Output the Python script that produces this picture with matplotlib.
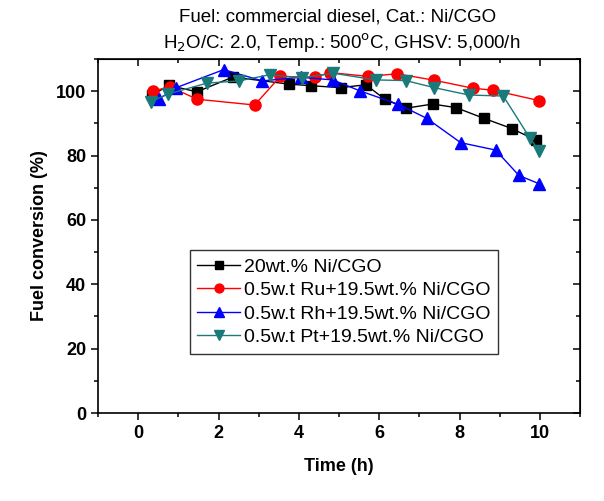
import matplotlib
matplotlib.use("Agg")
import matplotlib.pyplot as plt
from matplotlib.ticker import MultipleLocator

plt.rcParams['font.family'] = ['Liberation Sans', 'DejaVu Sans']

# Data
ni_x = [0.34, 0.77, 1.46, 2.36, 3.75, 4.30, 5.04, 5.67, 6.14, 6.66, 7.33, 7.91, 8.6, 9.3, 9.9]
ni_y = [98.8, 101.8, 99.8, 104.4, 102.2, 101.7, 101.1, 102.0, 97.5, 94.7, 96.0, 94.9, 91.6, 88.4, 84.8]

ru_x = [0.37, 0.8, 1.47, 2.9, 3.54, 4.40, 4.77, 5.72, 6.45, 7.37, 8.34, 8.84, 9.97]
ru_y = [100.1, 101.3, 97.5, 95.7, 104.6, 104.3, 105.8, 104.6, 105.4, 103.4, 100.9, 100.3, 97.1]

rh_x = [0.52, 0.95, 2.13, 3.09, 4.05, 4.85, 5.52, 6.46, 7.18, 8.03, 8.9, 9.48, 9.97]
rh_y = [97.6, 101.1, 106.7, 103.2, 104.3, 103.5, 100.1, 96.0, 91.6, 84.0, 81.7, 73.8, 71.3]

pt_x = [0.31, 0.74, 1.71, 2.51, 3.27, 4.09, 4.85, 5.91, 6.66, 7.37, 8.24, 9.09, 9.75, 9.98]
pt_y = [96.7, 99.1, 102.5, 103.2, 105.1, 104.1, 105.6, 103.5, 103.3, 101.1, 98.8, 98.5, 85.5, 81.5]

labels = ["20wt.% Ni/CGO",
          "0.5w.t Ru+19.5wt.% Ni/CGO",
          "0.5w.t Rh+19.5wt.% Ni/CGO",
          "0.5w.t Pt+19.5wt.% Ni/CGO"]

fig = plt.figure(figsize=(6.04, 5.01), dpi=100)
ax = fig.add_axes([98/604, 1 - 413/501, (580-98)/604, (413-59)/501])

ax.plot(ni_x, ni_y, color='black', marker='s', ms=7, lw=1, label=labels[0])
ax.plot(ru_x, ru_y, color='red', marker='o', ms=8, lw=1, label=labels[1])
ax.plot(rh_x, rh_y, color='blue', marker='^', ms=8.5, lw=1, label=labels[2])
ax.plot(pt_x, pt_y, color='#1a7a7a', marker='v', ms=8.5, lw=1, label=labels[3])

ax.set_xlim(-1, 11)
ax.set_ylim(0, 110)
ax.xaxis.set_major_locator(MultipleLocator(2))
ax.xaxis.set_minor_locator(MultipleLocator(1))
ax.yaxis.set_major_locator(MultipleLocator(20))
ax.yaxis.set_minor_locator(MultipleLocator(10))

for s in ax.spines.values():
    s.set_linewidth(1.2)

ax.tick_params(which='both', direction='out', top=False, right=False, width=1.1)
ax.tick_params(which='major', length=5, labelsize=13)
ax.tick_params(which='minor', length=3)
for lab in ax.get_xticklabels() + ax.get_yticklabels():
    lab.set_fontweight('bold')

# mirrored inward ticks on top and right
axt = ax.secondary_xaxis('top')
axt.xaxis.set_major_locator(MultipleLocator(2))
axt.xaxis.set_minor_locator(MultipleLocator(1))
axt.tick_params(which='both', direction='in', labeltop=False, width=1.1)
axt.tick_params(which='major', length=5)
axt.tick_params(which='minor', length=3)
axr = ax.secondary_yaxis('right')
axr.yaxis.set_major_locator(MultipleLocator(20))
axr.yaxis.set_minor_locator(MultipleLocator(10))
axr.tick_params(which='both', direction='in', labelright=False, width=1.1)
axr.tick_params(which='major', length=5)
axr.tick_params(which='minor', length=3)

ax.set_xlabel("Time (h)", fontsize=13, fontweight='bold', labelpad=12)
ax.set_ylabel("Fuel conversion (%)", fontsize=13, fontweight='bold', labelpad=6)

fig.text(0.5 + 36/604, 1 - 17/501, "Fuel: commercial diesel, Cat.: Ni/CGO",
         ha='center', va='center', fontsize=13.5)
fig.text(0.5 + 40/604, 1 - 43/501, "H$_2$O/C: 2.0, Temp.: 500$^{\\rm o}$C, GHSV: 5,000/h",
         ha='center', va='center', fontsize=13.5)

leg = ax.legend(loc='lower left', bbox_to_anchor=(0.19, 0.167), fontsize=14,
                frameon=True, fancybox=False, edgecolor='black',
                handlelength=2.2, handletextpad=0.2, borderpad=0.4,
                labelspacing=0.3, markerscale=0.8, borderaxespad=0)
leg.get_frame().set_linewidth(1.0)

fig.savefig("out.png", dpi=100)
